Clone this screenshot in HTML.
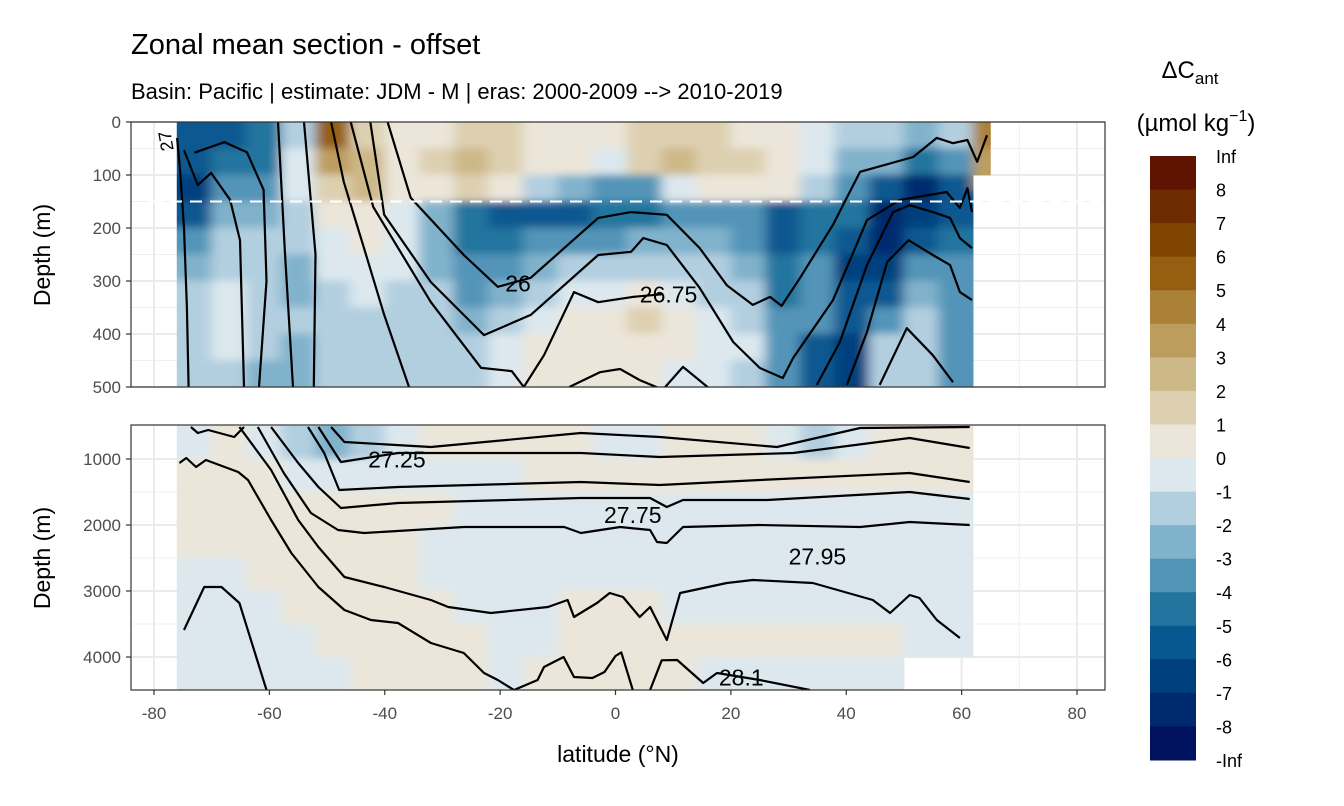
<!DOCTYPE html>
<html><head><meta charset="utf-8"><style>
html,body{margin:0;padding:0;background:#fff;}
svg{display:block;font-family:"Liberation Sans",sans-serif;}
</style></head><body>
<svg id="chart" width="1344" height="806" viewBox="0 0 1344 806" xmlns="http://www.w3.org/2000/svg">
<defs id="defs">
<clipPath id="clipTop"><rect x="131" y="122" width="974" height="265"/></clipPath>
<clipPath id="clipBot"><rect x="131" y="425" width="974" height="265"/></clipPath>
<filter id="soft" x="-5%" y="-5%" width="110%" height="110%"><feGaussianBlur stdDeviation="6 4"/></filter>
</defs>
<text x="131" y="54" font-size="29" fill="#000">Zonal mean section - offset</text>
<text x="131" y="99" font-size="22" fill="#000">Basin: Pacific | estimate: JDM - M | eras: 2000-2009 --&gt; 2010-2019</text>
<g id="gTop"></g>
<g id="gBot"></g>
<g id="gAxes"></g>
<text x="618" y="762" font-size="23" text-anchor="middle" fill="#000">latitude (°N)</text>
<text transform="translate(50,255) rotate(-90)" font-size="23" text-anchor="middle" fill="#000">Depth (m)</text>
<text transform="translate(50,558) rotate(-90)" font-size="23" text-anchor="middle" fill="#000">Depth (m)</text>
<g>
<text x="1190" y="78" font-size="24" text-anchor="middle" fill="#000">ΔC<tspan font-size="17" dy="6">ant</tspan></text>
<text x="1196" y="131" font-size="24" text-anchor="middle" fill="#000">(µmol kg<tspan font-size="16" dy="-10">−1</tspan><tspan dy="10">)</tspan></text>
<g id="gLegend"></g>
</g>
</svg>
<script>
// ---- data ----
const palette = ["#5e1400","#6e2c01","#7f4500","#955e10","#ab8037","#bd9d5e","#cdb888","#ddd0b1","#ece6da","#dce8ee","#b2cfe0","#81b2cc","#5294b8","#23749f","#075890","#003f7e","#002a6e","#00125e"];
const legendLabels = ["Inf","8","7","6","5","4","3","2","1","0","-1","-2","-3","-4","-5","-6","-7","-8","-Inf"];
const latEdges = [-76,-70,-64,-58,-52,-46,-40,-34,-28,-22,-16,-10,-4,2,8,14,20,26,32,38,44,50,56,62,65];
const topDepthEdges = [0,50,100,150,200,250,300,350,400,450,500];
const botDepthEdges = [500,1000,1500,2000,2500,3000,3500,4000,4500];
const topValues = [
[-5.5,-5.5,-6.5,-5.5,-3.5,-2.5,-1.5,-1.5,-1.5,-1.5],
[-5.5,-4.5,-3.5,-2.5,-1.5,-1.5,-0.5,-0.5,-0.5,-1.5],
[-4.5,-4.5,-3.5,-2.5,-1.5,-1.5,-1.5,-1.5,-1.5,-2.5],
[-1.5,-0.5,-0.5,-1.5,-1.5,-2.5,-2.5,-1.5,-2.5,-2.5],
[5.5,3.5,1.5,0.5,-0.5,-0.5,-1.5,-1.5,-1.5,-1.5],
[1.5,2.5,2.5,0.5,0.5,-0.5,-0.5,-1.5,-1.5,-1.5],
[0.5,0.5,0.5,-0.5,-0.5,-0.5,-1.5,-1.5,-1.5,-1.5],
[0.5,1.5,0.5,-2.5,-2.5,-2.5,-1.5,-1.5,-1.5,-1.5],
[1.5,2.5,1.5,-4.5,-4.5,-3.5,-3.5,-2.5,-1.5,-1.5],
[1.5,1.5,0.5,-5.5,-4.5,-3.5,-2.5,-1.5,-0.5,-0.5],
[0.5,0.5,-1.5,-5.5,-3.5,-2.5,-1.5,-0.5,0.5,0.5],
[0.5,0.5,-2.5,-5.5,-3.5,-1.5,-0.5,0.5,0.5,0.5],
[0.5,-0.5,-3.5,-4.5,-3.5,-1.5,-0.5,0.5,0.5,0.5],
[1.5,1.5,-3.5,-4.5,-2.5,-1.5,0.5,1.5,0.5,0.5],
[1.5,2.5,-0.5,-3.5,-2.5,-1.5,-0.5,0.5,0.5,-0.5],
[1.5,1.5,0.5,-3.5,-2.5,-1.5,-1.5,-0.5,-0.5,-0.5],
[0.5,1.5,0.5,-3.5,-3.5,-2.5,-1.5,-1.5,-0.5,-1.5],
[0.5,0.5,0.5,-5.5,-5.5,-4.5,-4.5,-3.5,-3.5,-3.5],
[-0.5,-0.5,-1.5,-4.5,-4.5,-3.5,-3.5,-3.5,-5.5,-5.5],
[-1.5,-2.5,-3.5,-4.5,-5.5,-6.5,-5.5,-5.5,-6.5,-6.5],
[-1.5,-2.5,-5.5,-7.5,-7.5,-6.5,-5.5,-3.5,-1.5,-1.5],
[-2.5,-4.5,-7.5,-6.5,-5.5,-3.5,-2.5,-1.5,-1.5,-1.5],
[-1.5,-3.5,-5.5,-5.5,-4.5,-3.5,-3.5,-3.5,-3.5,-3.5],
[4.5,3.5,null,null,null,null,null,null,null,null]
];
const botValues = [
[-0.5,0.5,0.5,0.5,-0.5,-0.5,-0.5,-0.5],
[0.5,0.5,0.5,0.5,-0.5,-0.5,-0.5,-0.5],
[-0.5,0.5,0.5,0.5,0.5,-0.5,-0.5,-0.5],
[-1.5,-0.5,0.5,0.5,0.5,0.5,-0.5,-0.5],
[-2.5,-0.5,0.5,0.5,0.5,0.5,0.5,-0.5],
[-1.5,-0.5,0.5,0.5,0.5,0.5,0.5,0.5],
[-0.5,-0.5,0.5,0.5,0.5,0.5,0.5,0.5],
[0.5,-0.5,0.5,-0.5,-0.5,0.5,0.5,0.5],
[0.5,-0.5,-0.5,-0.5,-0.5,-0.5,0.5,0.5],
[0.5,-0.5,-0.5,-0.5,-0.5,-0.5,-0.5,-0.5],
[0.5,0.5,-0.5,-0.5,-0.5,-0.5,-0.5,0.5],
[0.5,0.5,-0.5,-0.5,-0.5,0.5,0.5,0.5],
[-0.5,0.5,-0.5,-0.5,-0.5,0.5,0.5,0.5],
[-0.5,0.5,-0.5,-0.5,-0.5,0.5,0.5,0.5],
[0.5,0.5,-0.5,-0.5,-0.5,-0.5,0.5,0.5],
[0.5,0.5,-0.5,-0.5,-0.5,-0.5,0.5,-0.5],
[0.5,0.5,-0.5,-0.5,-0.5,-0.5,0.5,-0.5],
[-0.5,0.5,-0.5,-0.5,-0.5,-0.5,0.5,-0.5],
[-1.5,0.5,-0.5,-0.5,-0.5,-0.5,0.5,-0.5],
[-0.5,0.5,-0.5,-0.5,-0.5,-0.5,0.5,-0.5],
[0.5,0.5,-0.5,-0.5,-0.5,-0.5,0.5,-0.5],
[0.5,0.5,-0.5,-0.5,-0.5,-0.5,-0.5,null],
[0.5,0.5,-0.5,-0.5,-0.5,-0.5,-0.5,null],
[null,null,null,null,null,null,null,null]
];
const topLineLats = [
[-76,-75.5,-74.8,-74.3,-74],
[-74.8,-72.4,-70.1,-66.8,-65.1,-64.4],
[-73,-67.8,-63.9,-61,-60.5,-61.8],
[-58.5,-57.3,-55.9],
[-54,-52,-52.3],
[-49.3,-47.1,-43.6,-40.1,-35.8],
[-45.9,-42,-32,-23.3,-18,-15.9],
[-15.9,-12.4,-7.2,-3,3,8],
[-8,-2.7,0.8,4.2,8.2,11.7,16.4],
[-39.5,-35.5,-26.3,-20.4,-14.7,-3,2.7,8.9,14.6,19.3,23.8,26.8,28.8,32,37.7,42.4,51.6,55.7,58.5,61,62.7,64.4],
[-42.5,-40.1,-32,-22.8,-14.7,-3,2.7,4.8,8.9,14.6,20.4,25,29,30.8,37.7,43.6,49.3,57.4,59.7,61,61.8],
[34.9,38.9,43.6,48.1,51,55,58,59.7,61.8],
[40.1,43.6,47.1,50.8,55,58,59.7,61.8],
[45.8,50.5,55,58.5]
];
const topLineDepths = [
[30,90,200,350,500],
[53,119,96,147,223,500],
[58,38,57,128,300,500],
[0,245,500],
[0,250,500],
[0,113,238,364,500],
[0,160,340,464,470,500],
[500,440,321,340,330,325],
[500,472,466,487,505,462,504],
[0,143,251,311,294,181,170,175,238,308,345,330,347,294,194,94,66,30,40,34,75,25],
[0,175,302,402,364,251,245,219,232,313,415,464,483,445,336,185,147,132,162,125,170],
[496,415,270,170,157,170,181,219,238],
[496,396,264,223,251,270,321,336],
[496,389,440,491]
];
const botLineLats = [
[-73.6,-72.4,-70.6,-66.1,-64.4],
[-75.6,-74.4,-72.7,-71,-65.4,-63.7,-59.7,-56.2,-51.5,-47,-42.4,-37.7,-32,-26.3,-22.8,-20.4,-17.6,-13.5,-12.4,-9,-7.2,-4,-1.9,0,1,3],
[-65.2,-59.7,-55,-51.5,-47,-40.1,-32,-29,-21.6,-11.7,-8.3,-7.2,-3.2,-1,1.3,4.2,6,8.9,11.2,19.3,23.8,34.2,44.6,47.6,51,52.7,55.7,59.7],
[-62,-57.5,-52.8,-48.1,-43.6,-26.3,-8.9,-6,0.8,6,7.2,8.9,11.7,25,42.4,51,61.4],
[-59.7,-55,-51.5,-47.6,-37.7,-6,6,8.9,11.7,26.3,51,61.4],
[-53.3,-50.5,-47.9,-37.7,-6,7.7,25,51,61.4],
[-51.5,-47.6,-37.7,-6,7.7,30.8,51,61.4],
[-49.3,-47,-32,-6,7.7,28,42.4,61.4],
[-74.8,-71.3,-68.3,-65.2,-60.5],
[6,8,10.7,15.2,17.6,25,33.7]
];
const botLineDepths = [
[515,606,560,667,515],
[1060,985,1121,1015,1197,1318,1924,2424,2939,3288,3439,3485,3788,3939,4242,4348,4500,4348,4151,4000,4303,4318,4227,3985,3930,4500],
[515,1167,1924,2333,2788,2939,3136,3242,3333,3242,3136,3394,3182,3030,3091,3394,3242,3742,3030,2879,2833,2879,3136,3333,3061,3106,3439,3712],
[515,1212,1818,2076,2121,2030,2030,2121,2030,2076,2258,2273,2030,2000,2030,1955,2000],
[515,1060,1424,1742,1667,1591,1591,1727,1621,1621,1500,1606],
[515,909,1470,1424,1348,1394,1318,1212,1348],
[515,1045,909,909,970,909,682,833],
[515,742,818,606,667,818,530,515],
[3591,2939,2939,3182,4500],
[4500,4050,4045,4394,4242,4348,4500]
];
const labelTexts = ["26","26.75","27.25","27.75","27.95","28.1"];
const labelLats = [-16.9,9.2,-37.9,3,35,21.8];
const labelDepths = [305,325,1010,1850,2480,4310];
const xTicks = [-80,-60,-40,-20,0,20,40,60,80];
const topTicks = [0,100,200,300,400,500];
const botTicks = [1000,2000,3000,4000];

// ---- scales ----
const X0=131, X1=1105;
function xS(lat){return 615.5+lat*5.7688;}
function yT(d){return 122+d*0.53;}
function yB(d){return 426+(d-500)*0.066;}
function colorOf(v){let i=8-Math.floor(v);if(i<0)i=0;if(i>17)i=17;return palette[i];}
const NS="http://www.w3.org/2000/svg";
function mk(tag,attrs,parent){const e=document.createElementNS(NS,tag);for(const k in attrs)e.setAttribute(k,attrs[k]);parent.appendChild(e);return e;}
const defs=document.getElementById('defs');

function panel(g,clip,yS,yTop,yBot,depthEdges,values,minors,majors,lineLats,lineDepths){
  mk('rect',{x:X0,y:yTop,width:X1-X0,height:yBot-yTop,fill:'#fff'},g);
  for(let v=-70;v<=70;v+=20){const l=mk('line',{x1:xS(v),x2:xS(v),y1:yTop,y2:yBot,stroke:'#f0f0f0','stroke-width':1},g);
    
    }
  minors.forEach(d=>{const l=mk('line',{x1:X0,x2:X1,y1:yS(d),y2:yS(d),stroke:'#f0f0f0','stroke-width':1},g);
    
    });
  xTicks.forEach(v=>{const l=mk('line',{x1:xS(v),x2:xS(v),y1:yTop,y2:yBot,stroke:'#ebebeb','stroke-width':2},g);
    
    });
  majors.forEach(d=>{const l=mk('line',{x1:X0,x2:X1,y1:yS(d),y2:yS(d),stroke:'#ebebeb','stroke-width':2},g);
    
    });
  const cg=mk('g',{'clip-path':'url(#'+clip+')'},g);
  // data-extent clip (union of non-null cells)
  const dcp=mk('clipPath',{id:clip+'Data'},defs);
  for(let c=0;c<values.length;c++)for(let r=0;r<values[c].length;r++){
    if(values[c][r]===null)continue;
    const x=xS(latEdges[c]),w=xS(latEdges[c+1])-x,y=yS(depthEdges[r]),h=yS(depthEdges[r+1])-y;
    mk('rect',{x:x-0.3,y:y-0.3,width:w+0.6,height:h+0.6},dcp);
  }
  const dg=mk('g',{'clip-path':'url(#'+clip+'Data)'},cg);
  const fg=mk('g',{filter:'url(#soft)'},dg);
  const last=values.length-1;
  for(let c=0;c<values.length;c++){
    for(let r=0;r<values[c].length;r++){
      const v=values[c][r]; if(v===null)continue;
      const x=xS(latEdges[c]),w=xS(latEdges[c+1])-x,y=yS(depthEdges[r]),h=yS(depthEdges[r+1])-y;
      const extT=(r===0||values[c][r-1]===null)?14:0;
      const extB=(r===values[c].length-1||values[c][r+1]===null)?14:0;
      const extL=(c===0||values[c-1][r]===null)?14:0;
      const extR=(c===last||values[c+1][r]===null)?14:0;
      const cell=mk('rect',{x:x-0.3-extL,y:y-0.3-extT,width:w+0.6+extL+extR,height:h+0.6+extT+extB,fill:colorOf(v)},fg);
      
      
    }
  }
  for(let i=0;i<lineLats.length;i++){
    const pts=lineLats[i].map((la,j)=>xS(la).toFixed(1)+','+yS(lineDepths[i][j]).toFixed(1)).join(' ');
    const pl=mk('polyline',{points:pts,fill:'none',stroke:'#000','stroke-width':2.2,'stroke-linejoin':'round'},cg);
    
    
  }
  return cg;
}
const gTop=document.getElementById('gTop'), gBot=document.getElementById('gBot');
const cgTop=panel(gTop,'clipTop',yT,122,387,topDepthEdges,topValues,[50,150,250,350,450],topTicks,topLineLats,topLineDepths);
const cgBot=panel(gBot,'clipBot',yB,425,690,botDepthEdges,botValues,[1500,2500,3500],botTicks,botLineLats,botLineDepths);
const dl=mk('line',{x1:150,x2:X1,y1:yT(150),y2:yT(150),stroke:'#fff','stroke-width':2,'stroke-dasharray':'12,8'},cgTop);


const l27=mk('text',{x:0,y:0,transform:'translate(172,140) rotate(-100)','font-size':18,fill:'#000','text-anchor':'middle'},cgTop);
l27.textContent='27';


labelTexts.forEach((t,i)=>{
  const deep=labelDepths[i]>500;
  const tx=mk('text',{x:xS(labelLats[i]),y:(deep?yB(labelDepths[i]):yT(labelDepths[i]))+8,'font-size':23,'text-anchor':'middle',fill:'#000'},deep?cgBot:cgTop);
  tx.textContent=t;
  
  
});
const gA=document.getElementById('gAxes');
[[122,387],[425,690]].forEach(p=>{const b=mk('rect',{x:X0,y:p[0],width:X1-X0,height:p[1]-p[0],fill:'none',stroke:'#333','stroke-width':1.2},gA);
  
  });
topTicks.forEach(d=>{
  const tk=mk('line',{x1:126,x2:131,y1:yT(d),y2:yT(d),stroke:'#333','stroke-width':1.2},gA);
  
  
  const t=mk('text',{x:121,y:yT(d)+6,'font-size':17,'text-anchor':'end',fill:'#4d4d4d'},gA);t.textContent=d;
  
  
});
botTicks.forEach(d=>{
  const tk=mk('line',{x1:126,x2:131,y1:yB(d),y2:yB(d),stroke:'#333','stroke-width':1.2},gA);
  
  
  const t=mk('text',{x:121,y:yB(d)+6,'font-size':17,'text-anchor':'end',fill:'#4d4d4d'},gA);t.textContent=d;
  
  
});
xTicks.forEach(v=>{
  const tk=mk('line',{x1:xS(v),x2:xS(v),y1:690,y2:695,stroke:'#333','stroke-width':1.2},gA);
  
  
  const t=mk('text',{x:xS(v),y:719,'font-size':17,'text-anchor':'middle',fill:'#4d4d4d'},gA);t.textContent=v;
  
  
});
const gL=document.getElementById('gLegend');
const LY0=156, LH=(760-156)/18;
palette.forEach((c,i)=>{const r=mk('rect',{x:1150,y:LY0+i*LH,width:46,height:LH+0.5,fill:c},gL);
  
  });
legendLabels.forEach((s,i)=>{const t=mk('text',{x:1216,y:LY0+i*LH+7,'font-size':18,fill:'#000'},gL);t.textContent=s;
  
  });
</script>
</body></html>
